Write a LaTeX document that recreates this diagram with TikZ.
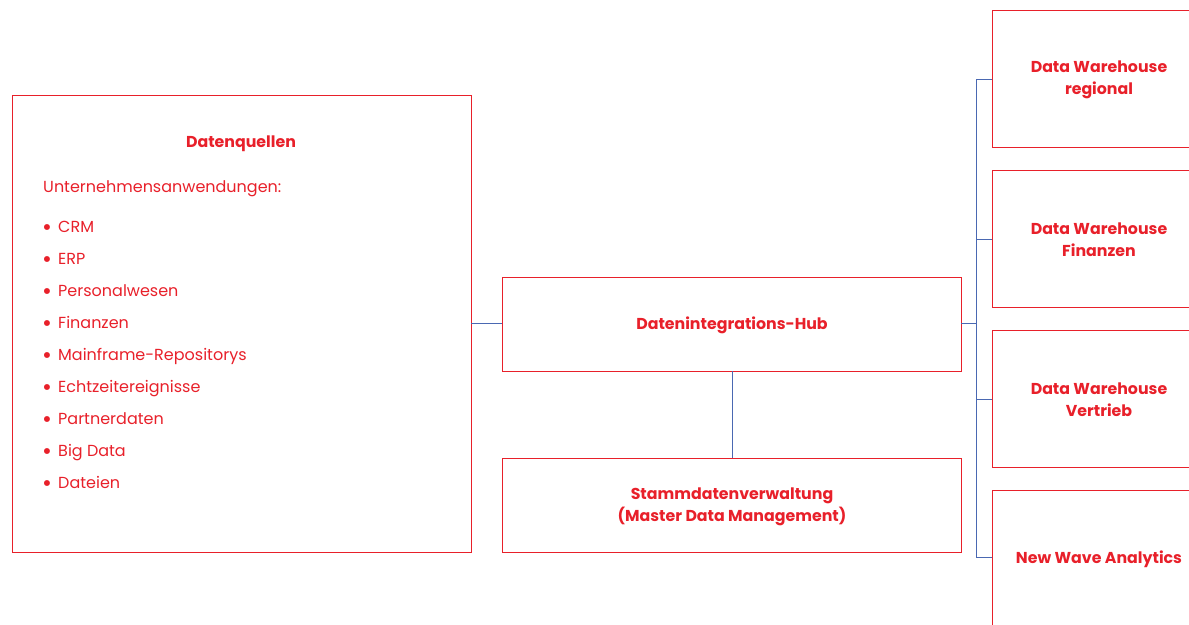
\documentclass[tikz,border=0pt]{standalone}
\usepackage{fontspec}
\setmainfont{Poppins}
\definecolor{dred}{HTML}{E8202A}
\definecolor{dblue}{HTML}{4A68B2}
\begin{document}
\begin{tikzpicture}[x=1pt,y=-1pt,
  box/.style={draw=dred,line width=1pt,fill=none},
  conn/.style={draw=dblue,line width=1pt},
  ttl/.style={text=dred,font=\fontsize{15.8}{22}\selectfont\bfseries,align=center,inner sep=0pt,yshift=-2.5pt},
  itm/.style={text=dred,font=\fontsize{16}{18}\selectfont,anchor=base west,inner sep=0pt}]
\useasboundingbox (0,0) rectangle (1189,624);
\clip (0,0) rectangle (1189,624);
% boxes
\draw[box] (12,95) rectangle (471,552);
\coordinate (srcE) at (471,323);
\draw[box] (502,277) rectangle (961,371);
\coordinate (hubW) at (502,323);
\coordinate (hubE) at (961,323);
\coordinate (hubS) at (732,371);
\draw[box] (502,458) rectangle (961,552);
\coordinate (mdmN) at (732,458);
\draw[box] (992,10) rectangle (1206,147);
\draw[box] (992,170) rectangle (1206,307);
\draw[box] (992,330) rectangle (1206,467);
\draw[box] (992,490) rectangle (1206,640);
\coordinate (dw1) at (992,79);
\coordinate (dw2) at (992,239);
\coordinate (dw3) at (992,399);
\coordinate (dw4) at (992,557);
\coordinate (bus) at (976,323);
\coordinate (busT) at (976,79);
\coordinate (busB) at (976,557);
% connectors
\draw[conn] (srcE) -- (hubW);
\draw[conn] (hubS) -- (mdmN);
\draw[conn] (hubE) -- (bus);
\draw[conn] (busT) -- (busB);
\draw[conn] (busT) -- (dw1);
\draw[conn] (976,239) -- (dw2);
\draw[conn] (976,399) -- (dw3);
\draw[conn] (busB) -- (dw4);
% texts
\node[ttl] (tq) at (241,141) {Datenquellen};
\node[itm] (tu) at (43,192) {Unternehmensanwendungen:};
\foreach \t [count=\i from 0] in {CRM,ERP,Personalwesen,Finanzen,Mainframe-Repositorys,Echtzeitereignisse,Partnerdaten,Big Data,Dateien}{
  \node[itm] (it\i) at (42,232+32*\i) {\makebox[16pt][l]{\fontsize{24}{24}\selectfont\raisebox{-3pt}{•}}\t};
}
\node[ttl] (thub) at (732,323) {Datenintegrations-Hub};
\node[ttl] (tmdm) at (732,504) {Stammdatenverwaltung\\(Master Data Management)};
\node[ttl] (t1) at (1099,77) {Data Warehouse\\regional};
\node[ttl] (t2) at (1099,237) {Data Warehouse\\Finanzen};
\node[ttl] (t3) at (1099,397) {Data Warehouse\\Vertrieb};
\node[ttl] (t4) at (1099,557) {New Wave Analytics};
\end{tikzpicture}
\end{document}
